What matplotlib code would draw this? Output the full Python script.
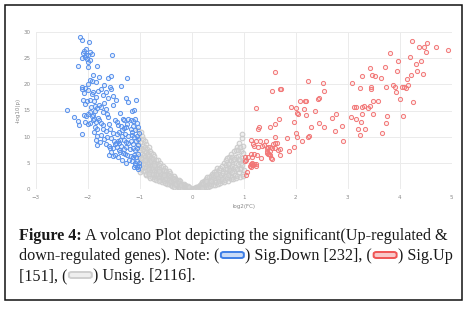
import matplotlib
matplotlib.use("Agg")
import matplotlib.pyplot as plt
from matplotlib.patches import FancyBboxPatch, Rectangle

# ---------------- data ----------------
sig_down = [
(-2.15,28.9),(-2.12,28.4),(-1.98,28.1),(-2.08,26.4),(-2.03,26.7),(-2.10,26.0),(-1.97,26.2),(-1.92,25.8),(-2.00,25.5),(-2.06,25.2),
(-2.11,25.0),(-2.02,24.8),(-1.96,24.6),(-1.99,24.2),(-2.04,25.6),(-1.54,25.6),(-2.20,23.5),(-1.99,23.3),(-1.82,23.4),
(-1.91,21.8),(-1.78,21.4),(-1.55,21.6),(-1.61,21.1),(-1.24,21.1),(-1.96,20.8),(-1.84,20.4),(-1.92,20.6),(-2.00,20.0),(-1.37,19.6),
(-1.58,19.5),(-1.69,19.8),(-1.55,19.1),(-2.11,19.4),(-2.06,19.2),(-2.12,19.0),(-1.75,19.1),(-1.80,18.8),(-1.91,18.6),(-1.99,18.9),
(-1.66,18.5),(-2.08,18.3),(-1.93,18.2),(-1.72,18.0),(-1.51,17.8),(-1.61,17.4),(-1.84,17.6),(-1.27,17.4),(-1.46,17.0),(-1.23,16.7),
(-1.07,17.0),(-2.09,17.0),(-2.02,16.9),(-1.96,17.0),(-1.88,16.8),(-2.05,16.3),(-1.70,16.5),(-1.78,16.0),(-1.52,16.0),(-1.86,15.8),
(-1.82,15.5),(-1.75,15.6),(-1.94,15.7),(-1.66,15.3),(-1.15,15.0),(-1.12,15.1),(-2.40,15.1),(-1.86,15.0),(-1.97,14.8),(-1.39,14.6),
(-1.71,14.8),(-2.27,13.7),(-2.08,14.2),(-2.04,14.0),(-2.00,14.3),(-1.93,13.9),(-1.80,13.6),(-1.88,13.4),(-1.62,13.7),(-1.48,13.2),
(-1.33,13.3),(-1.30,13.2),(-1.23,13.3),(-1.18,13.2),(-1.13,13.0),(-1.06,12.6),(-2.20,13.0),(-2.17,12.2),(-2.12,10.5),(-2.06,12.8),
(-2.00,12.5),(-1.96,12.7),(-1.91,13.1),(-1.85,12.9),(-1.75,12.7),(-1.71,12.2),(-1.60,12.4),(-1.42,12.2),(-1.36,12.0),(-1.30,11.6),
(-1.26,11.9),(-1.18,11.5),(-1.10,11.2),(-1.04,11.8),(-1.86,11.9),(-1.82,11.4),(-1.88,11.0),(-1.72,11.5),(-1.66,11.1),(-1.58,11.5),
(-1.52,10.8),(-1.45,10.5),(-1.40,10.9),(-1.35,10.2),(-1.28,10.6),(-1.22,10.1),(-1.16,10.3),(-1.12,9.9),(-1.06,10.2),(-1.03,9.6),
(-1.82,10.2),(-1.84,9.3),(-1.82,8.5),(-1.74,10.3),(-1.69,9.5),(-1.63,10.0),(-1.76,9.0),(-1.56,9.7),(-1.50,9.2),(-1.46,8.9),
(-1.43,9.1),(-1.41,8.8),(-1.38,9.3),(-1.48,8.6),(-1.31,9.4),(-1.27,9.0),(-1.22,8.8),(-1.17,9.2),(-1.13,8.7),(-1.08,9.1),
(-1.04,8.5),(-1.66,8.6),(-1.60,8.2),(-1.58,7.9),(-1.52,7.8),(-1.45,8.0),(-1.36,8.2),(-1.30,7.7),(-1.26,8.1),(-1.20,7.6),
(-1.14,7.9),(-1.09,7.4),(-1.05,7.8),(-1.41,7.4),(-1.38,7.1),(-1.33,6.9),(-1.52,6.3),(-1.48,6.5),(-1.42,6.2),(-1.29,6.8),
(-1.24,6.6),(-1.18,6.4),(-1.14,6.1),(-1.11,6.6),(-1.07,6.2),(-1.03,6.8),(-1.27,5.1),(-1.35,5.5),(-1.21,5.6),(-1.16,5.3),
(-1.10,5.0),(-1.06,5.4),(-1.02,5.1),(-1.09,4.6),(-1.05,4.2),(-1.03,3.8),(-1.01,4.5),(-1.12,4.3),(-1.60,6.6),(-1.55,7.1),
(-1.90,14.2),(-1.78,13.2),(-1.64,14.3),(-1.44,12.8),(-1.34,11.3),(-1.14,12.1),(-1.09,13.3),(-1.16,11.0),(-1.02,10.7),(-1.25,12.5),
]

sig_up = [
(4.23,28.2),(4.52,27.9),(4.37,27.0),(4.47,27.0),(4.70,27.0),(4.92,26.5),(4.51,26.2),(3.82,25.9),(4.20,25.2),(4.40,24.5),
(3.96,24.4),(4.31,23.9),(3.43,23.1),(3.71,23.3),(3.94,22.6),(4.33,22.5),(1.60,22.3),(3.46,21.8),(3.53,21.6),(3.27,21.6),
(4.22,21.7),(4.44,21.9),(3.64,21.1),(4.14,21.0),(2.23,20.6),(2.52,20.2),(3.09,20.2),(3.87,19.9),(3.90,19.4),(4.08,19.5),
(4.12,19.3),(4.15,19.8),(4.05,19.4),(3.24,19.3),(3.44,19.4),(3.44,19.0),(3.73,19.4),(1.54,18.8),(1.69,19.0),(1.72,19.0),
(2.54,18.8),(3.93,18.5),(2.43,17.2),(2.45,17.4),(2.09,16.8),(2.17,16.9),(2.20,16.9),(4.00,17.1),(4.25,16.7),(3.48,16.8),
(3.59,16.9),(1.90,15.7),(1.23,15.5),(2.01,15.5),(2.15,15.2),(3.12,15.6),(3.16,15.6),(3.28,15.7),(3.32,15.9),(3.38,15.5),
(3.42,15.8),(2.03,14.6),(2.05,14.4),(2.36,15.0),(2.20,14.1),(1.68,13.4),(2.77,14.3),(2.70,13.5),(3.07,13.7),(3.16,13.3),
(3.28,14.3),(3.48,14.3),(3.75,14.0),(4.06,14.0),(1.97,12.8),(1.60,12.4),(1.51,11.8),(1.30,11.8),(1.27,11.4),(2.45,12.7),
(2.29,11.9),(2.54,11.9),(2.88,12.0),(2.75,11.1),(3.20,11.5),(3.34,11.5),(3.26,12.8),(3.73,12.6),(3.65,10.8),(3.23,10.3),
(2.00,10.8),(1.60,10.0),(1.83,9.7),(2.24,9.9),(2.25,10.1),(2.02,10.0),(2.11,9.1),(2.91,9.1),(1.96,8.1),(1.86,7.2),
(1.42,9.1),(1.32,9.2),(1.24,9.1),(1.13,9.4),(1.18,8.6),(1.20,8.2),(1.27,8.1),(1.35,8.2),(1.38,8.4),(1.44,7.8),
(1.47,8.0),(1.51,8.1),(1.56,8.6),(1.60,8.9),(1.63,8.8),(1.65,7.5),(1.69,7.6),(1.60,7.8),(1.54,7.8),(1.45,7.2),
(1.46,6.8),(1.50,7.2),(1.50,6.5),(1.52,5.9),(1.54,5.7),(1.48,6.7),(1.44,7.0),(1.70,6.5),(1.33,6.0),(1.26,6.5),
(1.19,6.8),(1.14,6.7),(1.16,6.2),(1.03,6.1),(1.08,6.1),(1.05,5.6),(1.16,5.1),(1.13,4.8),(1.11,4.5),(1.15,4.6),
(1.19,4.9),(1.23,4.9),(1.24,4.4),(1.14,4.2),(1.18,4.6),(1.02,5.3),(1.06,3.2),(1.04,2.7),
]

unsig = [
(-1.04,11.3),(-0.98,10.9),(-0.96,10.2),(-1.01,9.8),(-0.94,9.5),(-0.99,9.0),(-1.03,8.6),(-0.95,8.3),(-0.97,7.9),(-1.00,7.4),
(-0.93,7.2),(-0.96,6.8),(-1.02,6.4),(-0.94,6.1),(-0.98,5.7),(-0.92,5.5),(-0.99,5.2),(-0.95,4.8),(-1.01,4.4),(-0.93,4.2),
(-0.97,3.9),(-0.94,3.5),(-0.99,3.2),(-0.96,5.9),(-0.92,6.6),(-0.95,7.6),
(-0.91,9.2),(-0.88,8.6),(-0.90,8.0),(-0.86,7.7),(-0.89,7.1),(-0.87,6.5),(-0.91,6.2),(-0.85,5.9),(-0.88,5.4),(-0.90,4.9),
(-0.86,4.6),(-0.89,4.1),(-0.87,3.7),(-0.91,3.4),(-0.85,3.1),(-0.88,2.8),(-0.86,5.2),(-0.90,5.6),(-0.84,6.8),(-0.89,3.0),
(-0.83,8.0),(-0.81,7.3),(-0.79,6.9),(-0.82,6.4),(-0.78,6.0),(-0.80,5.6),(-0.83,5.1),(-0.77,4.9),(-0.81,4.5),(-0.79,4.1),
(-0.82,3.8),(-0.76,3.6),(-0.80,3.2),(-0.78,2.9),(-0.83,2.6),(-0.77,2.3),(-0.81,2.2),(-0.79,5.3),(-0.76,4.4),(-0.82,3.0),
(-0.75,6.8),(-0.72,6.3),(-0.74,5.8),(-0.70,5.5),(-0.73,5.0),(-0.68,4.8),(-0.71,4.4),(-0.75,4.0),(-0.67,3.9),(-0.72,3.5),
(-0.69,3.2),(-0.74,2.9),(-0.66,2.7),(-0.71,2.4),(-0.68,2.1),(-0.73,1.9),(-0.70,1.7),(-0.66,3.4),(-0.73,4.6),(-0.69,2.9),
(-0.65,5.5),(-0.62,5.1),(-0.64,4.6),(-0.60,4.3),(-0.63,3.9),(-0.58,3.7),(-0.61,3.3),(-0.65,3.0),(-0.57,2.9),(-0.62,2.6),
(-0.59,2.3),(-0.64,2.1),(-0.56,2.0),(-0.61,1.7),(-0.58,1.4),(-0.63,1.5),(-0.60,3.0),(-0.56,2.5),(-0.63,3.5),
(-0.55,4.4),(-0.52,4.0),(-0.54,3.6),(-0.50,3.4),(-0.53,3.0),(-0.48,2.9),(-0.51,2.6),(-0.55,2.3),(-0.47,2.2),(-0.52,1.9),
(-0.49,1.7),(-0.54,1.5),(-0.46,1.4),(-0.51,1.2),(-0.48,1.0),(-0.50,2.1),(-0.46,2.5),(-0.53,2.7),
(-0.45,3.4),(-0.42,3.1),(-0.44,2.8),(-0.40,2.6),(-0.43,2.3),(-0.38,2.2),(-0.41,1.9),(-0.45,1.7),(-0.37,1.6),(-0.42,1.4),
(-0.39,1.2),(-0.44,1.0),(-0.36,1.0),(-0.41,0.8),(-0.38,0.7),(-0.40,1.5),(-0.36,1.8),
(-0.35,2.5),(-0.32,2.2),(-0.34,1.9),(-0.30,1.8),(-0.33,1.5),(-0.28,1.4),(-0.31,1.2),(-0.35,1.0),(-0.27,0.9),(-0.32,0.8),
(-0.29,0.6),(-0.34,0.5),(-0.26,0.5),(-0.30,1.1),(-0.27,1.6),
(-0.25,1.7),(-0.22,1.5),(-0.24,1.2),(-0.20,1.1),(-0.23,0.9),(-0.18,0.8),(-0.21,0.6),(-0.25,0.5),(-0.17,0.4),(-0.22,0.3),
(-0.19,0.25),(-0.16,0.6),(-0.20,0.9),
(-0.15,1.0),(-0.13,0.8),(-0.14,0.5),(-0.11,0.6),(-0.12,0.3),(-0.09,0.4),(-0.10,0.15),(-0.07,0.3),(-0.06,0.1),(-0.04,0.2),
(-0.03,0.05),(-0.02,0.1),(-0.01,0.02),(-0.08,0.55),(-0.05,0.35),
(0.01,0.03),(0.02,0.12),(0.04,0.08),(0.05,0.25),(0.06,0.15),(0.08,0.35),(0.09,0.2),(0.10,0.5),(0.11,0.3),(0.12,0.12),
(0.13,0.65),(0.14,0.4),(0.15,0.85),(0.15,0.22),
(0.16,0.6),(0.18,1.1),(0.17,0.35),(0.19,0.8),(0.20,1.4),(0.21,0.5),(0.22,1.0),(0.23,0.3),(0.24,1.6),(0.25,0.75),
(0.22,1.25),(0.19,0.25),
(0.26,1.3),(0.27,0.5),(0.28,2.0),(0.29,0.9),(0.30,1.6),(0.31,0.45),(0.32,2.3),(0.33,1.1),(0.34,1.8),(0.35,0.7),
(0.30,2.4),(0.28,1.5),(0.34,1.3),
(0.36,2.6),(0.37,1.0),(0.38,1.9),(0.39,3.0),(0.40,0.8),(0.41,2.3),(0.42,1.4),(0.43,3.2),(0.44,1.8),(0.45,0.9),
(0.40,2.7),(0.37,1.5),(0.44,2.5),
(0.46,3.4),(0.47,1.3),(0.48,2.6),(0.49,4.0),(0.50,1.0),(0.51,3.0),(0.52,1.9),(0.53,3.7),(0.54,2.3),(0.55,1.2),
(0.50,2.2),(0.47,2.9),(0.53,1.6),(0.55,4.1),
(0.56,2.8),(0.57,4.5),(0.58,1.5),(0.59,3.5),(0.60,2.2),(0.61,5.0),(0.62,1.3),(0.63,3.9),(0.64,2.6),(0.65,4.6),
(0.60,3.1),(0.57,1.9),(0.63,1.8),(0.65,3.3),
(0.66,5.5),(0.67,2.1),(0.68,3.8),(0.69,4.8),(0.70,1.6),(0.71,3.1),(0.72,6.1),(0.73,2.5),(0.74,4.3),(0.75,5.6),
(0.70,2.7),(0.68,5.9),(0.73,3.6),(0.75,1.9),(0.71,4.9),
(0.76,6.7),(0.77,2.3),(0.78,4.4),(0.79,5.5),(0.80,1.9),(0.81,3.4),(0.82,7.2),(0.83,2.8),(0.84,5.0),(0.85,6.2),
(0.80,3.9),(0.78,6.2),(0.83,4.2),(0.85,2.2),(0.81,5.8),(0.84,7.5),(0.77,3.2),
(0.86,8.0),(0.87,2.5),(0.88,4.8),(0.89,6.4),(0.90,3.2),(0.91,8.9),(0.92,5.5),(0.93,2.4),(0.94,7.2),(0.95,4.0),
(0.96,9.7),(0.97,6.0),(0.98,3.0),(0.99,8.3),(0.96,10.6),(0.88,7.4),(0.92,3.8),(0.94,5.1),(0.97,4.6),(0.99,2.6),
(0.90,5.7),(0.98,7.0),(0.86,3.8),(0.93,8.1),(1.00,5.3),(1.00,3.6),
]

x_ticks = [-3, -2, -1, 0, 1, 2, 3, 4, 5]
y_ticks = [0, 5, 10, 15, 20, 25, 30]
x_label = "log2(FC)"
y_label = "-log10(p)"

caption_bold = "Figure 4:"
caption_line1 = " A volcano Plot depicting the significant(Up-regulated &"
caption_line2 = ["down-regulated genes). Note: (", "down", ") Sig.Down [232], (", "up", ") Sig.Up"]
caption_line3 = ["[151], (", "unsig", ") Unsig. [2116]."]

# ---------------- figure ----------------
W, H = 471, 309
fig = plt.figure(figsize=(W / 100, H / 100), dpi=100)
fig.patch.set_facecolor("white")

ax = fig.add_axes([36 / W, 1 - 189.3 / H, (451.7 - 36) / W, (189.3 - 31.7) / H])
ax.set_xlim(-3, 5)
ax.set_ylim(0, 30)
ax.set_xticks(x_ticks)
ax.set_yticks(y_ticks)
ax.tick_params(length=0, labelsize=4, labelcolor="#888888", pad=4)
for s in ax.spines.values():
    s.set_visible(False)
ax.grid(True, color="#ebebeb", lw=0.7)
ax.set_axisbelow(True)
ax.set_xlabel(x_label, fontsize=4, color="#888888", labelpad=3)
ax.set_ylabel(y_label, fontsize=4, color="#888888", labelpad=2)

def xs(pts):
    return [p[0] for p in pts]

def ys(pts):
    return [p[1] for p in pts]

ax.scatter(xs(unsig), ys(unsig), s=11, facecolors=(0.85, 0.85, 0.85, 0.35),
           edgecolors="#cccccc", linewidths=0.8, zorder=2)
ax.scatter(xs(sig_down), ys(sig_down), s=9, facecolors=(0.35, 0.58, 0.95, 0.15),
           edgecolors="#5a92ec", linewidths=0.7, zorder=3)
ax.scatter(xs(sig_up), ys(sig_up), s=9, facecolors=(0.95, 0.50, 0.50, 0.15),
           edgecolors="#f27777", linewidths=0.7, zorder=3)

# outer border
fig.patches.append(Rectangle((5 / W, 1 - 300 / H), 457 / W, 295 / H, transform=fig.transFigure,
                             fill=False, edgecolor="#111111", lw=1.1))

# ---------------- caption ----------------
renderer = fig.canvas.get_renderer()
cap_font = "Liberation Serif"
cap_color = "#1a1a1a"

def line1_width(fs):
    t1 = fig.text(0, 0, caption_bold, fontsize=fs, fontweight="bold", family=cap_font)
    t2 = fig.text(0, 0, caption_line1, fontsize=fs, family=cap_font)
    w = t1.get_window_extent(renderer).width + t2.get_window_extent(renderer).width
    t1.remove(); t2.remove()
    return w

fs = 11.0
fs = fs * (429.0 / line1_width(fs))

swatch_styles = {
    "down": ("#c9dbf7", "#3f7fe6"),
    "up": ("#f8c9c9", "#f05555"),
    "unsig": ("#eeeeee", "#cfcfcf"),
}

def put_text(x, ybase, s, bold=False):
    t = fig.text(x / W, ybase / H, s, fontsize=fs, family=cap_font, color=cap_color,
                 fontweight="bold" if bold else "normal", va="baseline", ha="left")
    bb = t.get_window_extent(renderer)
    return bb.x1

def put_swatch(x, ybase, key):
    face, edge = swatch_styles[key]
    w, h = 23, 6
    x0 = x + 1.5
    y0 = ybase + 2.5
    p = FancyBboxPatch((x0 / W, y0 / H), w / W, h / H, boxstyle="round,pad=0,rounding_size=0.006",
                       transform=fig.transFigure, facecolor=face, edgecolor=edge, lw=1.4)
    fig.patches.append(p)
    return x0 + w + 1.5

left = 19
base1 = H - 240.5
base2 = H - 260.5
base3 = H - 280.5

x = put_text(left, base1, caption_bold, bold=True)
put_text(x, base1, caption_line1)

for row, base in ((caption_line2, base2), (caption_line3, base3)):
    x = left
    for piece in row:
        if piece in swatch_styles:
            x = put_swatch(x, base, piece)
        else:
            x = put_text(x, base, piece)

fig.savefig("out.png", dpi=100, facecolor="white")
